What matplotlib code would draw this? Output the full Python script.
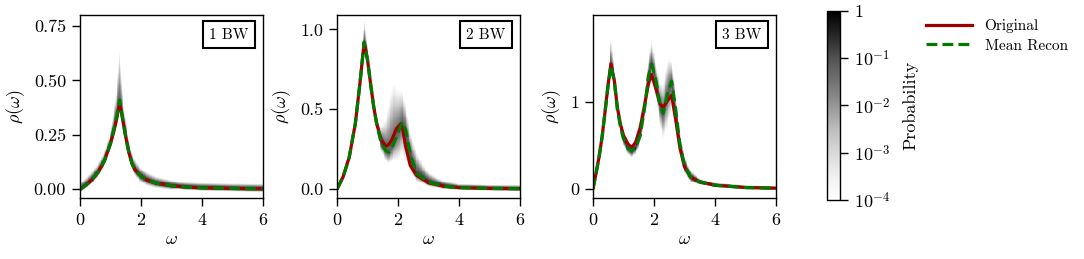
import numpy as np
import matplotlib
matplotlib.use("Agg")
import matplotlib.pyplot as plt
from matplotlib.colors import LogNorm
from matplotlib.lines import Line2D

plt.rcParams['font.family'] = 'serif'
plt.rcParams['font.serif'] = ['cmr10', 'DejaVu Serif']
plt.rcParams['mathtext.fontset'] = 'cm'
plt.rcParams['axes.formatter.use_mathtext'] = True
plt.rcParams['axes.unicode_minus'] = False

# ---- panel 1 (1 BW) ----
w1 = [0, 0.2, 0.4, 0.6, 0.8, 0.9, 1.0, 1.1, 1.2, 1.25, 1.3, 1.35, 1.4, 1.5, 1.6,
      1.7, 1.8, 2.0, 2.2, 2.5, 3.0, 3.5, 4.0, 5.0, 6.0]
orig1 = [0, 0.02, 0.045, 0.08, 0.13, 0.17, 0.21, 0.26, 0.32, 0.36, 0.39, 0.36, 0.32,
         0.24, 0.17, 0.12, 0.09, 0.06, 0.042, 0.028, 0.016, 0.01, 0.007, 0.004, 0.002]
recon1 = [0, 0.02, 0.045, 0.08, 0.13, 0.17, 0.21, 0.27, 0.33, 0.37, 0.41, 0.37, 0.32,
          0.24, 0.17, 0.12, 0.09, 0.06, 0.042, 0.028, 0.016, 0.01, 0.007, 0.004, 0.002]
bw1 = [0, 0.5, 1.0, 1.2, 1.3, 1.4, 1.6, 2.0, 2.5, 3.0, 3.2, 6.0]
up1 = [0.03, 0.04, 0.05, 0.16, 0.33, 0.13, 0.06, 0.04, 0.03, 0.025, 0.02, 0.02]
dn1 = [0.01, 0.02, 0.03, 0.05, 0.06, 0.05, 0.03, 0.03, 0.02, 0.015, 0.01, 0.01]

# ---- panel 2 (2 BW) ----
w2 = [0, 0.2, 0.4, 0.6, 0.75, 0.89, 1.0, 1.1, 1.2, 1.3, 1.45, 1.6, 1.7, 1.8, 1.95,
      2.1, 2.15, 2.25, 2.4, 2.6, 3.0, 3.5, 4.0, 5.0, 6.0]
orig2 = [0, 0.077, 0.2, 0.41, 0.66, 0.92, 0.81, 0.66, 0.52, 0.41, 0.31, 0.27, 0.28,
         0.31, 0.38, 0.41, 0.38, 0.27, 0.15, 0.088, 0.04, 0.019, 0.01, 0.005, 0.003]
recon2 = [0, 0.077, 0.2, 0.41, 0.66, 0.92, 0.81, 0.66, 0.52, 0.41, 0.29, 0.24, 0.23,
          0.26, 0.33, 0.40, 0.42, 0.37, 0.22, 0.10, 0.045, 0.019, 0.01, 0.005, 0.003]
bw2 = [0, 0.5, 0.8, 0.9, 1.0, 1.2, 1.4, 1.6, 1.75, 1.85, 2.0, 2.2, 2.4, 2.6, 2.8,
       3.0, 3.3, 3.6, 4.0, 6.0]
up2 = [0.03, 0.04, 0.09, 0.2, 0.08, 0.05, 0.08, 0.25, 0.47, 0.52, 0.36, 0.22, 0.18,
       0.16, 0.1, 0.065, 0.04, 0.03, 0.02, 0.02]
dn2 = [0.01, 0.03, 0.05, 0.05, 0.05, 0.04, 0.06, 0.08, 0.1, 0.14, 0.23, 0.28, 0.14,
       0.06, 0.04, 0.03, 0.02, 0.015, 0.01, 0.01]

# ---- panel 3 (3 BW) ----
w3 = [0, 0.1, 0.2, 0.3, 0.4, 0.5, 0.59, 0.7, 0.8, 0.9, 1.0, 1.15, 1.27, 1.4, 1.55,
      1.7, 1.82, 1.92, 2.05, 2.2, 2.3, 2.45, 2.58, 2.7, 2.85, 3.0, 3.2, 3.5, 4.0,
      5.0, 6.0]
orig3 = [0, 0.18, 0.37, 0.6, 0.9, 1.21, 1.44, 1.25, 0.94, 0.75, 0.62, 0.52, 0.48,
         0.54, 0.71, 0.98, 1.21, 1.32, 1.17, 0.98, 0.94, 1.02, 1.08, 0.83, 0.48,
         0.26, 0.14, 0.084, 0.046, 0.02, 0.012]
recon3 = [0, 0.18, 0.37, 0.6, 0.9, 1.2, 1.42, 1.24, 0.92, 0.72, 0.58, 0.47, 0.44,
          0.48, 0.62, 0.95, 1.3, 1.44, 1.27, 0.96, 0.87, 1.1, 1.24, 0.95, 0.52,
          0.28, 0.14, 0.084, 0.046, 0.02, 0.012]
bw3 = [0, 0.3, 0.5, 0.6, 0.7, 0.9, 1.1, 1.35, 1.5, 1.7, 1.8, 1.95, 2.1, 2.3, 2.45,
       2.6, 2.75, 2.9, 3.1, 3.5, 4.0, 6.0]
up3 = [0.05, 0.1, 0.15, 0.4, 0.16, 0.08, 0.05, 0.07, 0.09, 0.15, 0.25, 0.33, 0.25,
       0.43, 0.52, 0.3, 0.2, 0.15, 0.1, 0.04, 0.025, 0.02]
dn3 = [0.01, 0.05, 0.1, 0.1, 0.14, 0.07, 0.08, 0.08, 0.11, 0.15, 0.15, 0.13, 0.25,
       0.37, 0.5, 0.4, 0.25, 0.15, 0.08, 0.03, 0.015, 0.01]

labels = ['1 BW', '2 BW', '3 BW']
ylims = [(-0.04, 0.8), (-0.055, 1.09), (-0.1, 2.0)]
yticks = [[0, 0.25, 0.5, 0.75], [0, 0.5, 1.0], [0, 1]]
ytick_labels = [['0.00', '0.25', '0.50', '0.75'], ['0.0', '0.5', '1.0'], ['0', '1']]

panels = [(w1, orig1, recon1, bw1, up1, dn1),
          (w2, orig2, recon2, bw2, up2, dn2),
          (w3, orig3, recon3, bw3, up3, dn3)]

RED = '#a00000'
GREEN = '#007a00'
DASH = (0, (3.4, 1.6))

fig = plt.figure(figsize=(10.84, 2.59), dpi=100)
lefts = [0.0738, 0.3109, 0.547]
norm = LogNorm(vmin=1e-4, vmax=1)

for i, (w, orig, recon, bw, up, dn) in enumerate(panels):
    ax = fig.add_axes([lefts[i], 0.2355, 0.1688, 0.7066])
    lo, hi = ylims[i]
    # probability histogram of reconstructions, one column per omega bin
    xe = np.linspace(0, 6, 241)
    ye = np.linspace(lo, hi, 201)
    xc = 0.5 * (xe[1:] + xe[:-1])
    yc = 0.5 * (ye[1:] + ye[:-1])
    c = np.interp(xc, w, recon)
    u = np.interp(xc, bw, up)
    d = np.interp(xc, bw, dn)
    dy = yc[:, None] - c[None, :]
    ext = np.where(dy > 0, u[None, :], d[None, :]) + 0.004
    P = np.exp(-9.2 * (np.abs(dy) / ext) ** 1.3)
    P = P / P.sum(axis=0, keepdims=True)
    P = np.ma.masked_less(P, 1e-4)
    mesh = ax.pcolormesh(xe, ye, P, cmap='Greys', norm=norm, rasterized=True)

    ax.plot(w, orig, color=RED, lw=2.3, solid_capstyle='butt')
    ax.plot(w, recon, color=GREEN, lw=2.3, ls=DASH)

    ax.set_xlim(0, 6)
    ax.set_ylim(lo, hi)
    ax.set_xticks([0, 2, 4, 6])
    ax.set_yticks(yticks[i])
    ax.set_yticklabels(ytick_labels[i])
    ax.tick_params(labelsize=13, length=6, width=1, pad=4)
    ax.set_xlabel(r'$\omega$', fontsize=13, labelpad=3)
    ax.set_ylabel(r'$\rho(\omega)$', fontsize=13, labelpad=5)
    for s in ax.spines.values():
        s.set_linewidth(1.0)
    ax.text(0.814, 0.892, labels[i], transform=ax.transAxes, ha='center', va='center',
            fontsize=11,
            bbox=dict(boxstyle='square,pad=0.42', fc='white', ec='black', lw=1.5))

cax = fig.add_axes([0.763, 0.228, 0.012, 0.73])
cb = fig.colorbar(mesh, cax=cax)
cb.set_ticks([1e-4, 1e-3, 1e-2, 1e-1, 1])
cb.set_ticklabels([r'$10^{-4}$', r'$10^{-3}$', r'$10^{-2}$', r'$10^{-1}$', r'$1$'])
cb.ax.tick_params(labelsize=13, length=6, width=1, pad=4)
cb.ax.minorticks_off()
cb.set_label('Probability', fontsize=13, labelpad=9)
cb.outline.set_linewidth(1.0)

handles = [Line2D([], [], color=RED, lw=2.3),
           Line2D([], [], color=GREEN, lw=2.3, ls=DASH)]
fig.legend(handles, ['Original', 'Mean Recon'], loc='upper left',
           bbox_to_anchor=(0.842, 0.98), frameon=False, fontsize=11,
           handlelength=3.0, handletextpad=0.8, labelspacing=0.4)

fig.savefig('out.png', dpi=100)
